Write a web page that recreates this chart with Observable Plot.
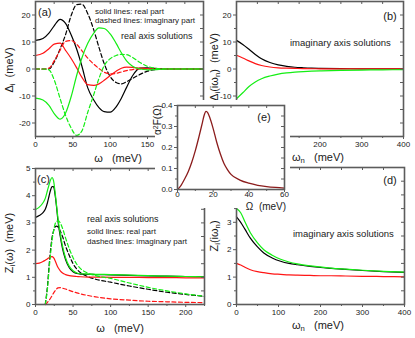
<!DOCTYPE html>
<html><head><meta charset="utf-8">
<script src="https://cdn.jsdelivr.net/npm/d3@7"></script>
<script src="https://cdn.jsdelivr.net/npm/@observablehq/plot@0.6"></script>
<style>
html,body{margin:0;padding:0;background:#fff;}
#fig{position:relative;width:415px;height:338px;overflow:hidden;font-family:"Liberation Sans",Arial,sans-serif;color:#1a1a1a;}
#fig > svg{position:absolute;}
.t{position:absolute;white-space:nowrap;line-height:1;}
.t sub{font-size:70%;vertical-align:-0.3em;line-height:0;}
.t sup{font-size:70%;vertical-align:0.5em;line-height:0;}
</style></head><body><div id="fig"></div>
<script>
// ---------- data ----------
// (a) real-axis gap function, meV
const aOmega   = [0,10,18,25,33,40,48,55,62,70,78,85,92,100,108,115,122,130,140,150,160,175,200,225];
const aBlackRe = [10.6,11.3,13.3,16,18.4,17,12.5,7.5,1.2,-7,-11.5,-14.3,-15.8,-16,-14,-10.8,-6.8,-2.5,0.3,0.4,0.2,0,0,0];
const aBlackIm = [0,0,0,2.5,7.5,12.5,20,23.8,24,20.5,14.5,8,2,-2.8,-5,-5.5,-4.7,-3.5,-2,-0.8,-0.2,0,0,0];
const aRedRe   = [5,5.8,7.5,9.2,9.6,7,3.8,0.5,-3,-5.8,-6.1,-5.5,-4.2,-2.4,-0.8,0.3,0.7,0.6,0.3,0.1,0,0,0,0];
const aRedIm   = [0,0,0.3,3,7,10.2,10.5,9.2,6.8,4,1.8,0.2,-1.2,-1.8,-1.6,-1.1,-0.6,-0.2,0,0,0,0,0,0];
const aGreenRe = [-10.8,-11.5,-13.5,-16.5,-18.6,-16.5,-10,-2.5,4,9.5,13.3,15.2,15,13,9.5,6,3,1,0,-0.3,-0.2,0,0,0];
const aGreenIm = [0,0,-0.3,-4,-11,-17,-22,-24.6,-23,-16,-9.5,-3.5,1.2,3.8,5,5.4,5.3,4.3,2.4,1,0.3,0,0,0];
// (b) imaginary-axis gap function
const bOmega = [0,15,30,45,60,80,100,120,140,160,180,200,250,300,350,400];
const bBlack = [10.6,9.1,7.3,5.4,3.8,2.4,1.5,1.0,0.65,0.45,0.3,0.22,0.12,0.07,0.04,0.02];
const bRed   = [5.1,4.1,3.0,2.0,1.3,0.75,0.45,0.3,0.2,0.14,0.1,0.08,0.05,0.03,0.02,0.01];
const bGreen = [-11,-8.8,-6.5,-4.8,-3.6,-2.6,-1.9,-1.45,-1.15,-0.95,-0.8,-0.7,-0.5,-0.38,-0.3,-0.25];
// (c) real-axis renormalization
const cOmega   = [0,5,10,13,16,18,20,22,24,26,28,30,33,36,40,45,50,55,60,70,80,100,125,150,175,200,225];
const cGreenRe = [3.49,3.58,3.74,3.9,4.2,4.4,4.58,4.67,4.55,4.15,3.65,3.15,2.6,2.15,1.72,1.4,1.24,1.16,1.13,1.12,1.11,1.1,1.08,1.06,1.04,1.03,1.02];
const cBlackRe = [3.2,3.27,3.38,3.5,3.75,3.98,4.2,4.33,4.33,4.05,3.6,3.05,2.5,2.05,1.65,1.35,1.2,1.14,1.12,1.11,1.1,1.09,1.07,1.05,1.04,1.03,1.02];
const cRedRe   = [1.5,1.52,1.58,1.63,1.68,1.72,1.75,1.76,1.72,1.62,1.48,1.36,1.24,1.16,1.1,1.06,1.04,1.03,1.02,1.01,1.01,1.0,1.0,0.99,0.99,0.98,0.98];
const cOmegaIm = [13,16,18,20,22,24,26,28,30,33,36,40,45,50,55,60,70,80,100,125,150,175,200,225];
const cBlackIm = [0,0.7,1.4,2.0,2.45,2.7,2.85,2.88,2.85,2.7,2.5,2.15,1.8,1.5,1.3,1.17,1.02,0.93,0.82,0.68,0.56,0.45,0.37,0.3];
const cGreenIm = [0,0.6,1.25,1.85,2.35,2.7,2.95,3.05,3.08,3.0,2.8,2.45,2.05,1.72,1.48,1.32,1.15,1.06,0.96,0.79,0.63,0.5,0.39,0.3];
const cRedIm   = [0,0.08,0.15,0.23,0.32,0.42,0.5,0.57,0.61,0.62,0.6,0.57,0.52,0.47,0.43,0.39,0.33,0.28,0.21,0.16,0.12,0.1,0.08,0.07];
// (d) imaginary-axis renormalization
const dOmega = [0,10,20,33,50,65,85,105,125,145,175,200,225,260,300,350,400];
const dGreen = [3.5,3.35,3.02,2.62,2.25,2.0,1.8,1.65,1.55,1.48,1.41,1.37,1.33,1.29,1.25,1.21,1.18];
const dBlack = [3.2,3.0,2.75,2.42,2.1,1.88,1.7,1.58,1.5,1.45,1.39,1.35,1.32,1.28,1.24,1.2,1.17];
const dRed   = [1.5,1.44,1.36,1.27,1.2,1.16,1.12,1.1,1.08,1.07,1.06,1.05,1.05,1.04,1.03,1.02,1.01];
// (e) Eliashberg function
const eOmega = [0,2,4,6,8,10,12,14,15,16,17,18,20,22,24,26,28,30,35,40,45,50,55,60];
const eVal   = [0,0.02,0.05,0.085,0.13,0.185,0.25,0.32,0.355,0.372,0.365,0.345,0.29,0.225,0.17,0.125,0.095,0.072,0.045,0.03,0.02,0.014,0.01,0.007];
// ticks
const aXTicks = [0,50,100,150,200], aXMinor = [25,75,125,175,225];
const aYTicks = [-20,-10,0,10,20],  aYMinor = [-15,-5,5,15];
const bXTicks = [0,100,200,300,400], bXMinor = [50,150,250,350];
const cYTicks = [0,1,2,3,4,5], cYMinor = [0.5,1.5,2.5,3.5,4.5];
const eXTicks = [0,20,40,60], eXMinor = [10,30,50];
const eYTicks = [0,0.1,0.2,0.3,0.4], eYMinor = [0.05,0.15,0.25,0.35];

// ---------- helpers ----------
const FONT = '"Liberation Sans", Arial, sans-serif';
const AX = "#5c5c5c";
const BLACK = "#000000", RED = "#ff1515", GREEN = "#14ee14";
const rows = (xs, ys) => xs.map((x, i) => ({x, y: ys[i]}));
const solid = (xs, ys, c, w = 1.2) => Plot.line(rows(xs, ys), {x: "x", y: "y", stroke: c, strokeWidth: w, curve: "monotone-x"});
const dashed = (xs, ys, c) => Plot.line(rows(xs, ys), {x: "x", y: "y", stroke: c, strokeWidth: 1.2, strokeDasharray: "4,2.5", curve: "monotone-x"});

function panel(cfg) {
  const {w, h, mt, mr, mb, ml, xd, yd, xt, xm, yt, ym, yfmt, marks, bg} = cfg;
  const xpad = cfg.xpad ?? 5;
  const fw = w - ml - mr, fh = h - mt - mb;
  const L = 3, Lm = 2;
  return Plot.plot({
    width: w, height: h, marginTop: mt, marginRight: mr, marginBottom: mb, marginLeft: ml,
    x: {domain: xd}, y: {domain: yd},
    style: {background: bg || "transparent", fontFamily: FONT, fontSize: "8px", color: "#222", overflow: "visible"},
    marks: [
      ...marks,
      Plot.tickX(xt, {x: d => d, insetTop: fh, insetBottom: -L, stroke: AX, strokeWidth: 1}),
      Plot.tickX(xm, {x: d => d, insetTop: fh, insetBottom: -Lm, stroke: AX, strokeWidth: 1}),
      Plot.tickX(xt.concat(xm), {x: d => d, insetBottom: fh - L, stroke: AX, strokeWidth: 1}),
      Plot.tickY(yt, {y: d => d, insetRight: fw, insetLeft: -L, stroke: AX, strokeWidth: 1}),
      Plot.tickY(ym, {y: d => d, insetRight: fw, insetLeft: -Lm, stroke: AX, strokeWidth: 1}),
      Plot.tickY(yt.concat(ym), {y: d => d, insetLeft: fw - L, stroke: AX, strokeWidth: 1}),
      Plot.frame({stroke: AX, strokeWidth: 1.6}),
      Plot.axisX(xt, {anchor: "bottom", tickSize: 0, tickPadding: xpad, label: null, fontSize: 8, tickFormat: d => String(d)}),
      Plot.axisY(yt, {anchor: "left", tickSize: 0, tickPadding: 5, label: null, fontSize: 8, tickFormat: yfmt || (d => String(d))})
    ]
  });
}

const fig = document.getElementById("fig");
function put(el, left, top) { el.style.left = left + "px"; el.style.top = top + "px"; fig.appendChild(el); }
function txt(html, x, y, size, mode) {
  const d = document.createElement("div");
  d.className = "t";
  d.innerHTML = html;
  d.style.fontSize = size + "px";
  d.style.left = x + "px"; d.style.top = y + "px";
  if (mode === "rot") d.style.transform = "translate(-50%,-50%) rotate(-90deg)";
  else if (mode === "c") d.style.transform = "translate(-50%,-50%)";
  else d.style.transform = "translateY(-50%)";
  fig.appendChild(d);
}

// ---------- panel (a) ----------
put(panel({w: 205, h: 165, mt: 1, mr: 2, mb: 29, ml: 35, xd: [0, 225], yd: [-25, 25],
  xt: aXTicks, xm: aXMinor, yt: aYTicks, ym: aYMinor,
  marks: [
    solid(aOmega, aBlackRe, BLACK), dashed(aOmega, aBlackIm, BLACK),
    solid(aOmega, aRedRe, RED), dashed(aOmega, aRedIm, RED),
    solid(aOmega, aGreenRe, GREEN), dashed(aOmega, aGreenIm, GREEN)
  ]}), 0, 0);

// ---------- panel (b) ----------
put(panel({w: 210, h: 165, mt: 1, mr: 12, mb: 29, ml: 31, xd: [0, 400], yd: [-25, 25],
  xt: bXTicks, xm: bXMinor, yt: aYTicks, ym: aYMinor,
  marks: [solid(bOmega, bBlack, BLACK), solid(bOmega, bRed, RED), solid(bOmega, bGreen, GREEN)]}), 205, 0);

// ---------- panel (c) ----------
put(panel({w: 206, h: 178, mt: 8, mr: 2, mb: 34, ml: 35, xd: [0, 225], yd: [0, 5],
  xt: aXTicks, xm: aXMinor, yt: cYTicks, ym: cYMinor,
  marks: [
    solid(cOmega, cBlackRe, BLACK), dashed(cOmegaIm, cBlackIm, BLACK),
    solid(cOmega, cRedRe, RED), dashed(cOmegaIm, cRedIm, RED),
    solid(cOmega, cGreenRe, GREEN), dashed(cOmegaIm, cGreenIm, GREEN)
  ]}), 0, 160);

// ---------- panel (d) ----------
put(panel({w: 210, h: 178, mt: 7, mr: 11, mb: 34, ml: 31, xd: [0, 400], yd: [0, 5],
  xt: bXTicks, xm: bXMinor, yt: cYTicks, ym: cYMinor,
  marks: [solid(dOmega, dBlack, BLACK), solid(dOmega, dRed, RED), solid(dOmega, dGreen, GREEN)]}), 205, 160);

// ---------- labels for (a)-(d) ----------
txt("Δ<sub>i</sub>&nbsp;&nbsp;(meV)", 9, 70, 11, "rot");
txt("ω&nbsp;&nbsp;&nbsp;(meV)", 118, 158, 11, "c");
txt("(a)", 38, 12, 11);
txt("solid lines: real part", 95, 12, 8);
txt("dashed lines: imaginary part", 95, 20.5, 8);
txt("real axis solutions", 121, 36, 9);

txt("Δ<sub>i</sub>(iω<sub>n</sub>)&nbsp;&nbsp;(meV)", 214, 67, 11, "rot");
txt("ω<sub>n</sub>&nbsp;&nbsp;&nbsp;(meV)", 318, 157, 11, "c");
txt("(b)", 390, 16, 11, "c");
txt("imaginary axis solutions", 290, 43, 9.5);

txt("Z<sub>i</sub>(ω)&nbsp;&nbsp;(meV)", 9, 243, 11, "rot");
txt("ω&nbsp;&nbsp;&nbsp;(meV)", 120, 328, 11, "c");
txt("(c)", 37, 179, 11);
txt("real axis solutions", 87, 219, 9);
txt("solid lines: real part", 87, 231.5, 8);
txt("dashed lines: imaginary part", 87, 241.5, 8);

txt("Z<sub>i</sub>(iω<sub>n</sub>)", 214, 236, 11, "rot");
txt("ω<sub>n</sub>&nbsp;&nbsp;&nbsp;(meV)", 318, 325, 11, "c");
txt("(d)", 390, 180, 11, "c");
txt("imaginary axis solutions", 293, 234, 9.5);

// ---------- inset (e) ----------
put(panel({w: 135, h: 108, mt: 5, mr: 6, mb: 19, ml: 22, xd: [0, 60], yd: [0, 0.4], bg: "white", xpad: 2,
  xt: eXTicks, xm: eXMinor, yt: eYTicks, ym: eYMinor, yfmt: d => d.toFixed(1),
  marks: [solid(eOmega, eVal, "#8b1c1c", 1.3)]}), 155, 100);
txt("α<sup>2</sup>F(Ω)", 158, 120, 10, "rot");
txt("Ω&nbsp;&nbsp;(meV)", 266, 206.5, 10, "c");
txt("(e)", 264, 117, 11, "c");
</script></body></html>
